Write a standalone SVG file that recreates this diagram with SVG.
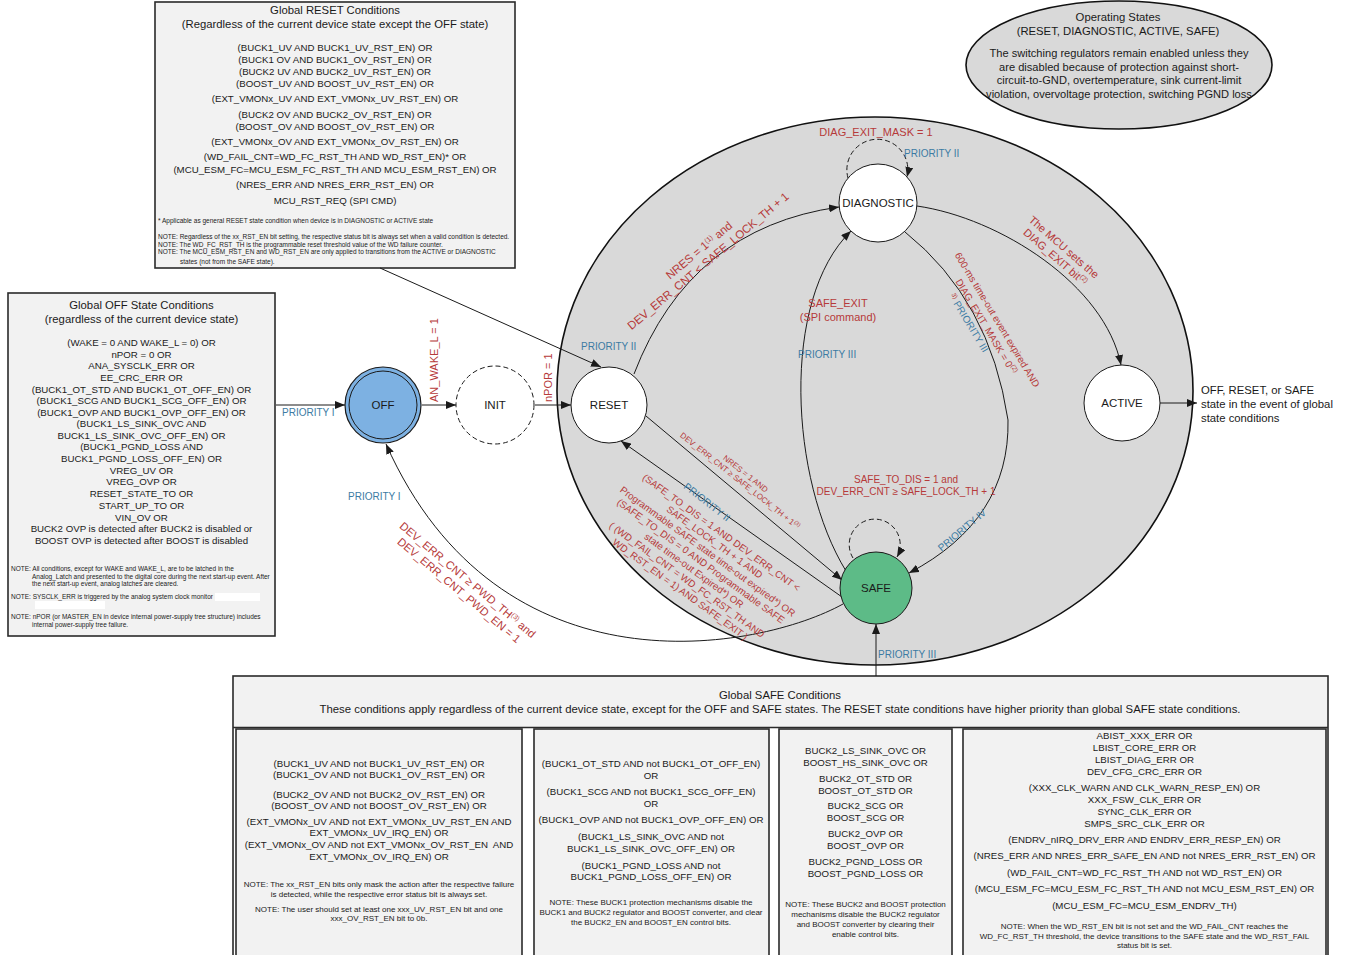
<svg xmlns="http://www.w3.org/2000/svg" width="1346" height="955" viewBox="0 0 1346 955">
<defs>
<style>
text{font-family:"Liberation Sans",Arial,sans-serif;fill:#1a1a1a}
.c{text-anchor:middle}
.box{fill:#F2F2F2;stroke:#2a2a2a;stroke-width:1.6}
.f97{font-size:9.7px}
.f113{font-size:11.3px}
.n65{font-size:6.5px}
.n8{font-size:8px}
.red{fill:#B63A3A}
.blue{fill:#3C7BA3;font-size:10px}
.ln{fill:none;stroke:#1a1a1a;stroke-width:1}
.dash{stroke-dasharray:5 3}
.nd{fill:#fff;stroke:#1a1a1a;stroke-width:1}
.nl{font-size:11.5px;text-anchor:middle}
.l11{font-size:11px}
.l10{font-size:9.8px}
</style>
<marker id="ah" viewBox="0 0 10 8" refX="10" refY="4" markerWidth="10" markerHeight="8" markerUnits="userSpaceOnUse" orient="auto"><path d="M0,0 L10,4 L0,8 z" fill="#1a1a1a"/></marker>
</defs>
<rect width="1346" height="955" fill="#fff"/>

<g id="operating-region">
<ellipse cx="875" cy="391" rx="318" ry="274" fill="#D9D9D9" stroke="#111" stroke-width="1.6"/>
</g>

<g id="note-operating-states">
<ellipse cx="1119" cy="65" rx="153" ry="64" fill="#D9D9D9" stroke="#111" stroke-width="1.6"/>
<text class="c f113" x="1118" y="21">Operating States</text>
<text class="c f113" x="1118" y="35">(RESET, DIAGNOSTIC, ACTIVE, SAFE)</text>
<text class="c" font-size="11.1" x="1119" y="57">The switching regulators remain enabled unless they</text>
<text class="c" font-size="11.1" x="1119" y="71">are disabled because of protection against short-</text>
<text class="c" font-size="11.1" x="1119" y="84">circuit-to-GND, overtemperature, sink current-limit</text>
<text class="c" font-size="11.1" x="1119" y="98">violation, overvoltage protection, switching PGND loss</text>
</g>

<g id="box-global-reset">
<rect class="box" x="155" y="2" width="360" height="266"/>
<text class="c f113" x="335" y="14">Global RESET Conditions</text>
<text class="c f113" x="335" y="28">(Regardless of the current device state except the OFF state)</text>
<text class="c f97" x="335" y="51.4">(BUCK1_UV AND BUCK1_UV_RST_EN) OR</text>
<text class="c f97" x="335" y="63.4">(BUCK1 OV AND BUCK1_OV_RST_EN) OR</text>
<text class="c f97" x="335" y="75.4">(BUCK2 UV AND BUCK2_UV_RST_EN) OR</text>
<text class="c f97" x="335" y="87.4">(BOOST_UV AND BOOST_UV_RST_EN) OR</text>
<text class="c f97" x="335" y="102.4">(EXT_VMONx_UV AND EXT_VMONx_UV_RST_EN) OR</text>
<text class="c f97" x="335" y="118.4">(BUCK2 OV AND BUCK2_OV_RST_EN) OR</text>
<text class="c f97" x="335" y="130.4">(BOOST_OV AND BOOST_OV_RST_EN) OR</text>
<text class="c f97" x="335" y="145.4">(EXT_VMONx_OV AND EXT_VMONx_OV_RST_EN) OR</text>
<text class="c f97" x="335" y="160.4">(WD_FAIL_CNT=WD_FC_RST_TH AND WD_RST_EN)* OR</text>
<text class="c f97" x="335" y="173.4">(MCU_ESM_FC=MCU_ESM_FC_RST_TH AND MCU_ESM_RST_EN) OR</text>
<text class="c f97" x="335" y="188.4">(NRES_ERR AND NRES_ERR_RST_EN) OR</text>
<text class="c f97" x="335" y="204.4">MCU_RST_REQ (SPI CMD)</text>
<text class="n65" x="158" y="223">* Applicable as general RESET state condition when device is in DIAGNOSTIC or ACTIVE state</text>
<text class="n65" x="158" y="239">NOTE: Regardless of the xx_RST_EN bit setting, the respective status bit is always set when a valid condition is detected.</text>
<text class="n65" x="158" y="246.5">NOTE: The WD_FC_RST_TH is the programmable reset threshold value of the WD failure counter.</text>
<text class="n65" x="158" y="254">NOTE: The MCU_ESM_RST_EN and WD_RST_EN are only applied to transitions from the ACTIVE or DIAGNOSTIC</text>
<text class="n65" x="180" y="264">states (not from the SAFE state).</text>
</g>

<g id="box-global-off">
<rect class="box" x="8" y="293" width="267" height="343"/>
<text class="c f113" x="141.5" y="309">Global OFF State Conditions</text>
<text class="c f113" x="141.5" y="323">(regardless of the current device state)</text>
<text class="c f97" x="141.5" y="346.4">(WAKE = 0 AND WAKE_L = 0) OR</text>
<text class="c f97" x="141.5" y="358.4">nPOR = 0 OR</text>
<text class="c f97" x="141.5" y="369.4">ANA_SYSCLK_ERR OR</text>
<text class="c f97" x="141.5" y="381.4">EE_CRC_ERR OR</text>
<text class="c f97" x="141.5" y="393.4">(BUCK1_OT_STD AND BUCK1_OT_OFF_EN) OR</text>
<text class="c f97" x="141.5" y="404.4">(BUCK1_SCG AND BUCK1_SCG_OFF_EN) OR</text>
<text class="c f97" x="141.5" y="416.4">(BUCK1_OVP AND BUCK1_OVP_OFF_EN) OR</text>
<text class="c f97" x="141.5" y="427.4">(BUCK1_LS_SINK_OVC AND</text>
<text class="c f97" x="141.5" y="439.4">BUCK1_LS_SINK_OVC_OFF_EN) OR</text>
<text class="c f97" x="141.5" y="450.4">(BUCK1_PGND_LOSS AND</text>
<text class="c f97" x="141.5" y="462.4">BUCK1_PGND_LOSS_OFF_EN) OR</text>
<text class="c f97" x="141.5" y="474.4">VREG_UV OR</text>
<text class="c f97" x="141.5" y="485.4">VREG_OVP OR</text>
<text class="c f97" x="141.5" y="497.4">RESET_STATE_TO OR</text>
<text class="c f97" x="141.5" y="509.4">START_UP_TO OR</text>
<text class="c f97" x="141.5" y="521.4">VIN_OV OR</text>
<text class="c f97" x="141.5" y="532.4">BUCK2 OVP is detected after BUCK2 is disabled or</text>
<text class="c f97" x="141.5" y="544.4">BOOST OVP is detected after BOOST is disabled</text>
<text class="n65" x="11" y="571">NOTE: All conditions, except for WAKE and WAKE_L, are to be latched in the</text>
<text class="n65" x="32" y="578.5">Analog_Latch and presented to the digital core during the next start-up event. After</text>
<text class="n65" x="32" y="586">the next start-up event, analog latches are cleared.</text>
<text class="n65" x="11" y="599">NOTE: SYSCLK_ERR is triggered by the analog system clock monitor</text>
<rect x="215" y="593" width="45" height="8" fill="#fff"/>
<rect x="35" y="601" width="70" height="8" fill="#fff"/>
<text class="n65" x="11" y="619">NOTE: nPOR (or MASTER_EN in device internal power-supply tree structure) includes</text>
<text class="n65" x="32" y="627">internal power-supply tree failure.</text>
</g>

<g id="box-global-safe">
<rect class="box" x="233" y="676" width="1095" height="290"/>
<rect x="234" y="728" width="1093" height="230" fill="#fff"/>
<line x1="233" y1="727.5" x2="1328" y2="727.5" stroke="#2a2a2a" stroke-width="1.6"/>
<text class="c" x="780" y="699" font-size="11" textLength="122" lengthAdjust="spacingAndGlyphs">Global SAFE Conditions</text>
<text class="c" x="780" y="713" font-size="10.5" textLength="921" lengthAdjust="spacingAndGlyphs">These conditions apply regardless of the current device state, except for the OFF and SAFE states. The RESET state conditions have higher priority than global SAFE state conditions.</text>
<rect class="box" x="236" y="729" width="286" height="240"/>
<rect class="box" x="534" y="729" width="235" height="240"/>
<rect class="box" x="779" y="729" width="173" height="240"/>
<rect class="box" x="963" y="729" width="363" height="240"/>
<text class="c f97" x="379" y="767.4">(BUCK1_UV AND not BUCK1_UV_RST_EN) OR</text>
<text class="c f97" x="379" y="778.4">(BUCK1_OV AND not BUCK1_OV_RST_EN) OR</text>
<text class="c f97" x="379" y="798.4">(BUCK2_OV AND not BUCK2_OV_RST_EN) OR</text>
<text class="c f97" x="379" y="809.4">(BOOST_OV AND not BOOST_OV_RST_EN) OR</text>
<text class="c f97" x="379" y="825.4">(EXT_VMONx_UV AND not EXT_VMONx_UV_RST_EN AND</text>
<text class="c f97" x="379" y="836.4">EXT_VMONx_UV_IRQ_EN) OR</text>
<text class="c f97" x="379" y="848.4">(EXT_VMONx_OV AND not EXT_VMONx_OV_RST_EN&#160; AND</text>
<text class="c f97" x="379" y="860.4">EXT_VMONx_OV_IRQ_EN) OR</text>
<text class="c n8" x="379" y="886.8">NOTE: The xx_RST_EN bits only mask the action after the respective failure</text>
<text class="c n8" x="379" y="896.8">is detected, while the respective error status bit is always set.</text>
<text class="c n8" x="379" y="911.8">NOTE: The user should set at least one xxx_UV_RST_EN bit and one</text>
<text class="c n8" x="379" y="920.8">xxx_OV_RST_EN bit to 0b.</text>
<text class="c f97" x="651" y="767.4">(BUCK1_OT_STD AND not BUCK1_OT_OFF_EN)</text>
<text class="c f97" x="651" y="779.4">OR</text>
<text class="c f97" x="651" y="795.4">(BUCK1_SCG AND not BUCK1_SCG_OFF_EN)</text>
<text class="c f97" x="651" y="807.4">OR</text>
<text class="c f97" x="651" y="823.4">(BUCK1_OVP AND not BUCK1_OVP_OFF_EN) OR</text>
<text class="c f97" x="651" y="840.4">(BUCK1_LS_SINK_OVC AND not</text>
<text class="c f97" x="651" y="852.4">BUCK1_LS_SINK_OVC_OFF_EN) OR</text>
<text class="c f97" x="651" y="869.4">(BUCK1_PGND_LOSS AND not</text>
<text class="c f97" x="651" y="880.4">BUCK1_PGND_LOSS_OFF_EN) OR</text>
<text class="c n8" x="651" y="904.8">NOTE: These BUCK1 protection mechanisms disable the</text>
<text class="c n8" x="651" y="914.8">BUCK1 and BUCK2 regulator and BOOST converter, and clear</text>
<text class="c n8" x="651" y="924.8">the BUCK2_EN and BOOST_EN control bits.</text>
<text class="c f97" x="865.5" y="754.4">BUCK2_LS_SINK_OVC OR</text>
<text class="c f97" x="865.5" y="766.4">BOOST_HS_SINK_OVC OR</text>
<text class="c f97" x="865.5" y="782.4">BUCK2_OT_STD OR</text>
<text class="c f97" x="865.5" y="794.4">BOOST_OT_STD OR</text>
<text class="c f97" x="865.5" y="809.4">BUCK2_SCG OR</text>
<text class="c f97" x="865.5" y="821.4">BOOST_SCG OR</text>
<text class="c f97" x="865.5" y="837.4">BUCK2_OVP OR</text>
<text class="c f97" x="865.5" y="849.4">BOOST_OVP OR</text>
<text class="c f97" x="865.5" y="865.4">BUCK2_PGND_LOSS OR</text>
<text class="c f97" x="865.5" y="877.4">BOOST_PGND_LOSS OR</text>
<text class="c n8" x="865.5" y="906.8">NOTE: These BUCK2 and BOOST protection</text>
<text class="c n8" x="865.5" y="916.8">mechanisms disable the BUCK2 regulator</text>
<text class="c n8" x="865.5" y="926.8">and BOOST converter by clearing their</text>
<text class="c n8" x="865.5" y="936.8">enable control bits.</text>
<text class="c f97" x="1144.5" y="739.4">ABIST_XXX_ERR OR</text>
<text class="c f97" x="1144.5" y="751.4">LBIST_CORE_ERR OR</text>
<text class="c f97" x="1144.5" y="763.4">LBIST_DIAG_ERR OR</text>
<text class="c f97" x="1144.5" y="775.4">DEV_CFG_CRC_ERR OR</text>
<text class="c f97" x="1144.5" y="791.4">(XXX_CLK_WARN AND CLK_WARN_RESP_EN) OR</text>
<text class="c f97" x="1144.5" y="803.4">XXX_FSW_CLK_ERR OR</text>
<text class="c f97" x="1144.5" y="815.4">SYNC_CLK_ERR OR</text>
<text class="c f97" x="1144.5" y="827.4">SMPS_SRC_CLK_ERR OR</text>
<text class="c f97" x="1144.5" y="843.4">(ENDRV_nIRQ_DRV_ERR AND ENDRV_ERR_RESP_EN) OR</text>
<text class="c f97" x="1144.5" y="859.4">(NRES_ERR AND NRES_ERR_SAFE_EN AND not NRES_ERR_RST_EN) OR</text>
<text class="c f97" x="1144.5" y="876.4">(WD_FAIL_CNT=WD_FC_RST_TH AND not WD_RST_EN) OR</text>
<text class="c f97" x="1144.5" y="892.4">(MCU_ESM_FC=MCU_ESM_FC_RST_TH AND not MCU_ESM_RST_EN) OR</text>
<text class="c f97" x="1144.5" y="909.4">(MCU_ESM_FC=MCU_ESM_ENDRV_TH)</text>
<text class="c n8" x="1144.5" y="928.8">NOTE: When the WD_RST_EN bit is not set and the WD_FAIL_CNT reaches the</text>
<text class="c n8" x="1144.5" y="938.8">WD_FC_RST_TH threshold, the device transitions to the SAFE state and the WD_RST_FAIL</text>
<text class="c n8" x="1144.5" y="947.8">status bit is set.</text>
</g>

<g id="connectors">
<path class="ln" d="M276,405 L345,405" marker-end="url(#ah)"/>
<path class="ln" d="M422,405 L456,405" marker-end="url(#ah)"/>
<path class="ln" d="M535,405 L571,405" marker-end="url(#ah)"/>
<path class="ln" d="M380,268 L601,367" marker-end="url(#ah)"/>
<path class="ln" d="M634,374 Q690,228 839,207" marker-end="url(#ah)"/>
<path class="ln" d="M846,571 C790,480 780,300 851,231" marker-end="url(#ah)"/>
<path class="ln" d="M905,232 Q990,300 1008,420 Q1010,520 909,573" marker-end="url(#ah)"/>
<path class="ln" d="M917,206 C1000,218 1105,285 1121,365" marker-end="url(#ah)"/>
<path class="ln" d="M1160,403 L1197,403" marker-end="url(#ah)"/>
<path class="ln" d="M646,416 L842,580" marker-end="url(#ah)"/>
<path class="ln" d="M842,597 L621,441" marker-end="url(#ah)"/>
<path class="ln" d="M843,604 C760,650 500,700 386,444" marker-end="url(#ah)"/>
<path class="ln" d="M876,676 L876,624" marker-end="url(#ah)"/>
<path class="ln dash" d="M848,178 A30.5,30.5 0 1 1 907,177" marker-end="url(#ah)"/>
<path class="ln dash" d="M853,558 A25.5,25.5 0 1 1 897,557" marker-end="url(#ah)"/>
</g>

<g id="node-off">
<circle cx="383" cy="405" r="38" fill="#7DB1E2" stroke="#1a1a1a" stroke-width="1.2"/>
<circle cx="383" cy="405" r="34" fill="none" stroke="#1a1a1a" stroke-width="1"/>
<text class="nl" x="383" y="409">OFF</text>
</g>
<g id="node-init">
<circle class="nd dash" cx="495" cy="405" r="39"/>
<text class="nl" x="495" y="409">INIT</text>
</g>
<g id="node-reset">
<circle class="nd" cx="609" cy="405" r="38"/>
<text class="nl" x="609" y="409">RESET</text>
</g>
<g id="node-diagnostic">
<circle class="nd" cx="878" cy="203" r="39"/>
<text class="nl" x="878" y="207">DIAGNOSTIC</text>
</g>
<g id="node-active">
<circle class="nd" cx="1122" cy="403" r="38"/>
<text class="nl" x="1122" y="407">ACTIVE</text>
</g>
<g id="node-safe">
<circle cx="876" cy="588" r="36" fill="#5DBB87" stroke="#1a1a1a" stroke-width="1"/>
<text class="nl" x="876" y="592">SAFE</text>
</g>

<g id="labels">
<text class="blue" x="282" y="416">PRIORITY I</text>
<text class="red l11" transform="translate(438,402) rotate(-90)">AN_WAKE_L = 1</text>
<text class="red l11" transform="translate(552,402) rotate(-90)">nPOR = 1</text>
<text class="blue" x="581" y="350">PRIORITY II</text>
<g transform="translate(708,261) rotate(-40)">
<text class="red c" font-size="11.5" x="0" y="-10">NRES = 1<tspan font-size="7" dy="-4">(1)</tspan><tspan dy="4"> and</tspan></text>
<text class="red c" font-size="11.5" x="0" y="4">DEV_ERR_CNT &lt; SAFE_LOCK_TH + 1</text>
</g>
<text class="red c l11" x="876" y="136">DIAG_EXIT_MASK = 1</text>
<text class="blue" x="904" y="157">PRIORITY II</text>
<text class="red c l11" x="838" y="307">SAFE_EXIT</text>
<text class="red c l11" x="838" y="321">(SPI command)</text>
<text class="blue" x="798" y="358">PRIORITY III</text>
<g transform="translate(997,320) rotate(59)">
<text class="red c l10" x="0" y="3">600-ms time-out event expired AND</text>
<text class="red c l10" x="0" y="16">DIAG_EXIT_MASK = 0<tspan font-size="6.5" dy="-4">(2)</tspan></text>
<text class="c" x="-12" y="29"><tspan class="red" font-size="6.5" dy="-3">3)</tspan><tspan class="blue" dy="3"> PRIORITY III</tspan></text>
</g>
<g transform="translate(1064,247) rotate(41)">
<text class="red c l11" x="0" y="4">The MCU sets the</text>
<text class="red c l11" x="0" y="17">DIAG_EXIT bit<tspan font-size="7" dy="-4">(2)</tspan></text>
</g>
<text class="f113" x="1201" y="394">OFF, RESET, or SAFE</text>
<text class="f113" x="1201" y="408">state in the event of global</text>
<text class="f113" x="1201" y="422">state conditions</text>
<text class="red c" font-size="10" x="906" y="482.5">SAFE_TO_DIS = 1 and</text>
<text class="red c" font-size="10" x="906" y="494.5">DEV_ERR_CNT ≥ SAFE_LOCK_TH + 1</text>
<text class="blue c" transform="translate(962,530) rotate(-40)" y="3.5">PRIORITY IV</text>
<g transform="translate(743,477) rotate(38.4)">
<text class="red c" font-size="8" x="0" y="-1.5">NRES = 1 AND</text>
<text class="red c" font-size="8" x="0" y="7.5">DEV_ERR_CNT ≥ SAFE_LOCK_TH + 1<tspan font-size="5.5" dy="-3">(3)</tspan></text>
</g>
<text class="blue c" transform="translate(707,502) rotate(38)" y="3.5">PRIORITY II</text>
<g transform="translate(721.5,532.5) rotate(36)">
<text class="red c l10" x="0" y="3.5">(SAFE_TO_DIS = 1 AND DEV_ERR_CNT &lt;</text>
<text class="red c l10" x="0" y="15.2">SAFE_LOCK_TH + 1 AND</text>
<text class="red c l10" x="0" y="26.9">Programmable SAFE state time-out expired*) OR</text>
<text class="red c l10" x="0" y="38.6">(SAFE_TO_DIS = 0 AND Programmable SAFE</text>
<text class="red c l10" x="0" y="50.3">state time-out Expired*) OR</text>
<text class="red c l10" x="0" y="62">( (WD_FAIL_CNT = WD_FC_RST_TH AND</text>
<text class="red c l10" x="0" y="73.7">WD_RST_EN = 1) AND SAFE_EXIT )</text>
</g>
<text class="blue" x="348" y="500">PRIORITY I</text>
<g transform="translate(463.5,585) rotate(40)">
<text class="red c" font-size="11.3" x="0" y="-2.75">DEV_ERR_CNT ≥ PWD_TH<tspan font-size="7" dy="-4">(3)</tspan><tspan dy="4"> and</tspan></text>
<text class="red c" font-size="11.3" x="0" y="10.75">DEV_ERR_CNT_PWD_EN = 1</text>
</g>
<text class="blue" x="878" y="658">PRIORITY III</text>
</g>
</svg>
